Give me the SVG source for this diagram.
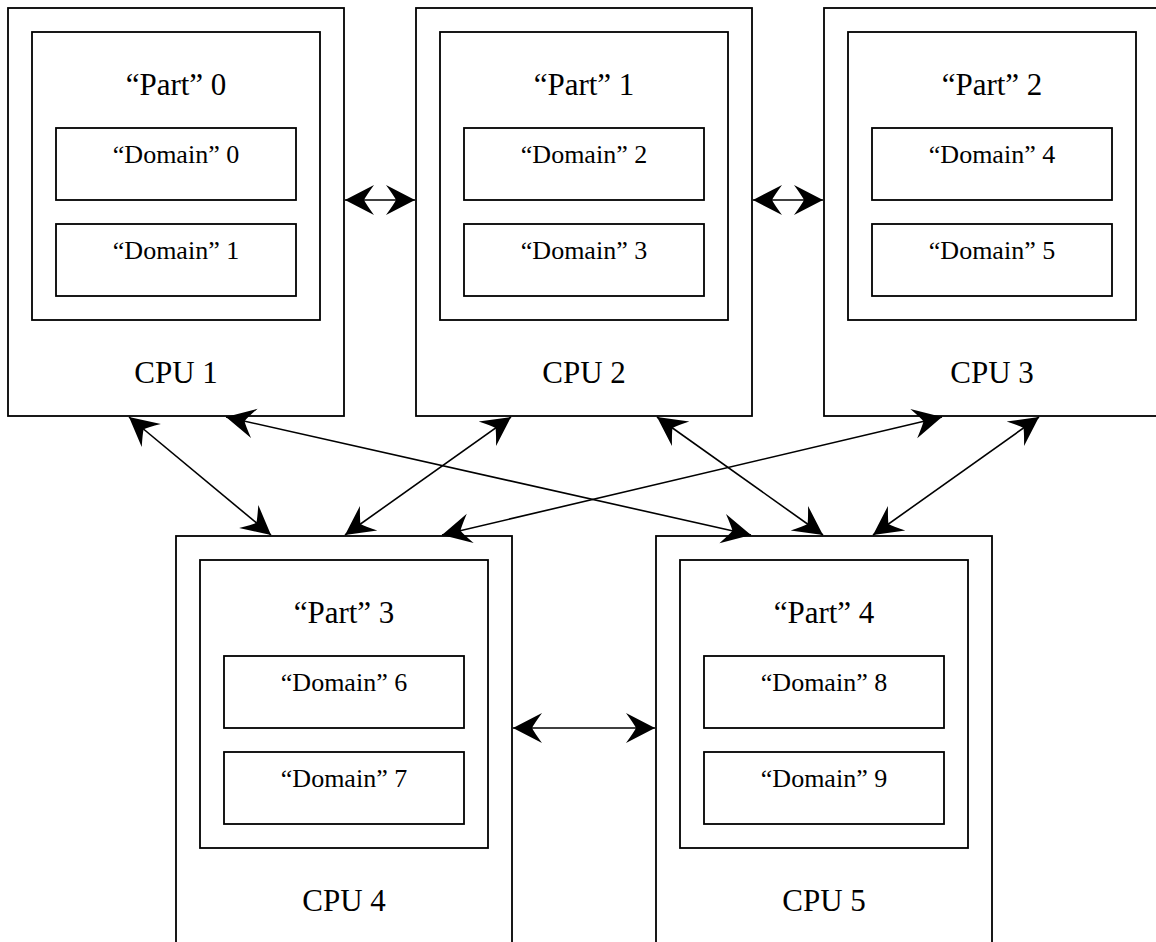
<svg xmlns="http://www.w3.org/2000/svg" width="1156" height="942" viewBox="0 0 1156 942">
  <style>
    .box { fill: #ffffff; stroke: #000000; stroke-width: 1.8; }
    .link { fill: none; stroke: #000000; stroke-width: 1.6; marker-start: url(#head); marker-end: url(#head); }
    .big { font-family: "Liberation Serif", "Times New Roman", serif; font-size: 31px; fill: #000000; text-anchor: middle; }
    .small { font-family: "Liberation Serif", "Times New Roman", serif; font-size: 26px; fill: #000000; text-anchor: middle; }
  </style>
  <defs>
    <!-- barbed arrowhead, tip at the line end -->
    <marker id="head" markerUnits="userSpaceOnUse" viewBox="-30 -16 31 32" refX="0" refY="0" markerWidth="31" markerHeight="32" orient="auto-start-reverse" overflow="visible">
      <path d="M0,0 L-29,-15 Q-21,-4 -19,0 Q-21,4 -29,15 Z" fill="#000000"/>
    </marker>
    <!-- one CPU with its part and two domains, drawn at the origin -->
    <g id="cpu-frame">
      <rect class="box" x="0" y="0" width="336" height="408"/>
      <rect class="box" x="24" y="24" width="288" height="288"/>
      <rect class="box" x="48" y="120" width="240" height="72"/>
      <rect class="box" x="48" y="216" width="240" height="72"/>
    </g>
  </defs>

  <rect x="0" y="0" width="1156" height="942" fill="#ffffff"/>

  <g id="cpu1" transform="translate(8,8)">
    <use href="#cpu-frame"/>
    <text class="big" x="168" y="87">“Part” 0</text>
    <text class="small" x="168" y="155">“Domain” 0</text>
    <text class="small" x="168" y="251">“Domain” 1</text>
    <text class="big" x="168" y="375">CPU 1</text>
  </g>

  <g id="cpu2" transform="translate(416,8)">
    <use href="#cpu-frame"/>
    <text class="big" x="168" y="87">“Part” 1</text>
    <text class="small" x="168" y="155">“Domain” 2</text>
    <text class="small" x="168" y="251">“Domain” 3</text>
    <text class="big" x="168" y="375">CPU 2</text>
  </g>

  <g id="cpu3" transform="translate(824,8)">
    <use href="#cpu-frame"/>
    <text class="big" x="168" y="87">“Part” 2</text>
    <text class="small" x="168" y="155">“Domain” 4</text>
    <text class="small" x="168" y="251">“Domain” 5</text>
    <text class="big" x="168" y="375">CPU 3</text>
  </g>

  <g id="cpu4" transform="translate(176,536)">
    <use href="#cpu-frame"/>
    <text class="big" x="168" y="87">“Part” 3</text>
    <text class="small" x="168" y="155">“Domain” 6</text>
    <text class="small" x="168" y="251">“Domain” 7</text>
    <text class="big" x="168" y="375">CPU 4</text>
  </g>

  <g id="cpu5" transform="translate(656,536)">
    <use href="#cpu-frame"/>
    <text class="big" x="168" y="87">“Part” 4</text>
    <text class="small" x="168" y="155">“Domain” 8</text>
    <text class="small" x="168" y="251">“Domain” 9</text>
    <text class="big" x="168" y="375">CPU 5</text>
  </g>

  <g id="connectors">
    <line class="link" x1="345" y1="200" x2="415" y2="200"/>
    <line class="link" x1="753" y1="200" x2="823" y2="200"/>
    <line class="link" x1="513" y1="728" x2="655" y2="728"/>
    <line class="link" x1="129" y1="417" x2="271" y2="535"/>
    <line class="link" x1="226" y1="417" x2="751" y2="535"/>
    <line class="link" x1="511" y1="417" x2="345" y2="535"/>
    <line class="link" x1="942" y1="417" x2="442" y2="535"/>
    <line class="link" x1="657" y1="417" x2="823" y2="535"/>
    <line class="link" x1="1039" y1="417" x2="873" y2="535"/>
  </g>
</svg>
